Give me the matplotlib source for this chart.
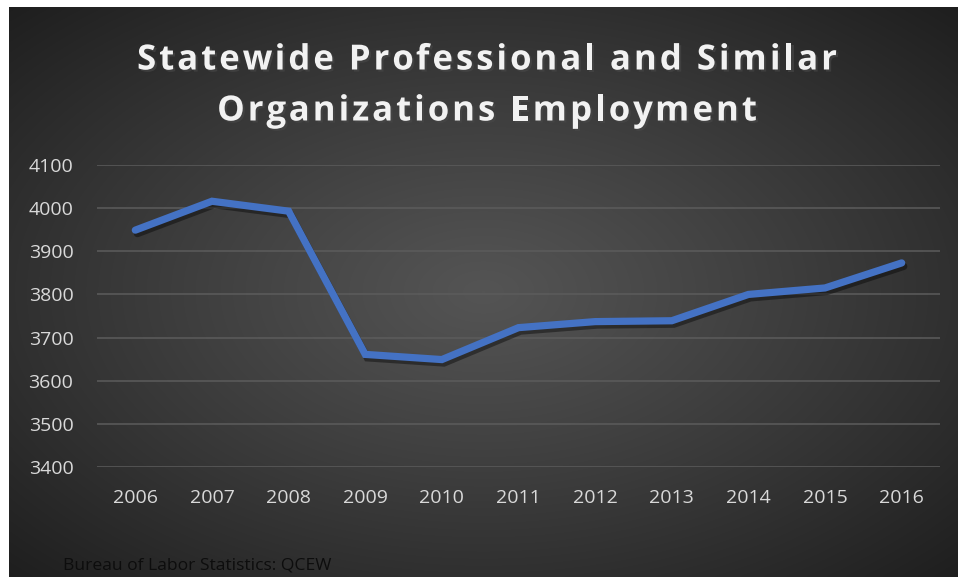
import numpy as np
import matplotlib
matplotlib.use("Agg")
import matplotlib.pyplot as plt
from matplotlib import patheffects as pe
from matplotlib.font_manager import FontProperties

years = ["2006", "2007", "2008", "2009", "2010", "2011",
         "2012", "2013", "2014", "2015", "2016"]
employment = [3949, 4016, 3993, 3661, 3649, 3723, 3737, 3739, 3800, 3815, 3873]
y_ticks = [3400, 3500, 3600, 3700, 3800, 3900, 4000, 4100]

TITLE_LINES = ["Statewide Professional and Similar", "Organizations Employment"]
SOURCE = "Bureau of Labor Statistics: QCEW"

W, H = 958, 577
LINE_COLOR = "#4472C4"
TEXT_COLOR = "#D9D9D9"
GRID_COLOR = "#5C5C5C"

fig = plt.figure(figsize=(W / 100, H / 100), dpi=100, facecolor="white")

# Dark panel with a soft radial highlight in the middle
bg_left, bg_top = 9 / W, 7 / H
bg = fig.add_axes([bg_left, 0, 1 - bg_left, 1 - bg_top])
gx, gy = np.meshgrid(np.linspace(-1, 1, 400), np.linspace(-1, 1, 240))
r = np.sqrt(gx ** 2 + gy ** 2) / np.sqrt(2)
shade = 0.33 - 0.21 * np.clip(r, 0, 1) ** 1.1
rgb = np.dstack([shade, shade, shade])
bg.imshow(rgb, aspect="auto", extent=[0, 1, 0, 1], interpolation="bicubic")
bg.set_axis_off()

ax = fig.add_axes([97 / W, (H - 467) / H, 843 / W, 302 / H])
ax.set_facecolor("none")
x = np.arange(len(years))
ax.plot(x, employment, color=LINE_COLOR, lw=5.2, solid_capstyle="round",
        solid_joinstyle="miter", zorder=3,
        path_effects=[pe.SimpleLineShadow(offset=(1.5, -2.5), shadow_color="black",
                                          alpha=0.4),
                      pe.Normal()])
ax.set_xlim(-0.5, len(years) - 0.5)
ax.set_ylim(y_ticks[0], y_ticks[-1])
ax.set_yticks(y_ticks)
ax.set_xticks(x, years)
ax.grid(axis="y", color=GRID_COLOR, lw=1.1)
ax.set_axisbelow(True)
for s in ax.spines.values():
    s.set_visible(False)
ax.tick_params(length=0, colors=TEXT_COLOR, labelsize=14)
ax.tick_params(axis="x", pad=16)
ax.tick_params(axis="y", pad=17)
for lbl in ax.get_xticklabels() + ax.get_yticklabels():
    lbl.set_fontfamily("Open Sans")

# Title drawn glyph by glyph so the letters can be spread out
renderer = fig.canvas.get_renderer()
title_prop = FontProperties(family="Open Sans", weight="bold", size=25)
tracking = 3.0  # extra pixels between letters
shadow = [pe.withSimplePatchShadow(offset=(1.5, -1.5), alpha=0.6)]


def text_width(s):
    return renderer.get_text_width_height_descent(s, title_prop, ismath=False)[0]


for line, y_px in zip(TITLE_LINES, [56, 107]):
    total = text_width(line) + tracking * (len(line) - 1)
    x0 = 487 - total / 2
    for i, ch in enumerate(line):
        if ch == " ":
            continue
        px = x0 + text_width(line[:i]) + tracking * i if i else x0
        fig.text(px / W, 1 - y_px / H, ch, ha="left", va="center_baseline",
                 color="#F2F2F2", fontproperties=title_prop, path_effects=shadow)

fig.text(63 / W, 1 - 565 / H, SOURCE, ha="left", va="center", color="#0D0D0D",
         fontsize=12.6, family="Open Sans")

fig.savefig("out.png", dpi=100, facecolor="white")
